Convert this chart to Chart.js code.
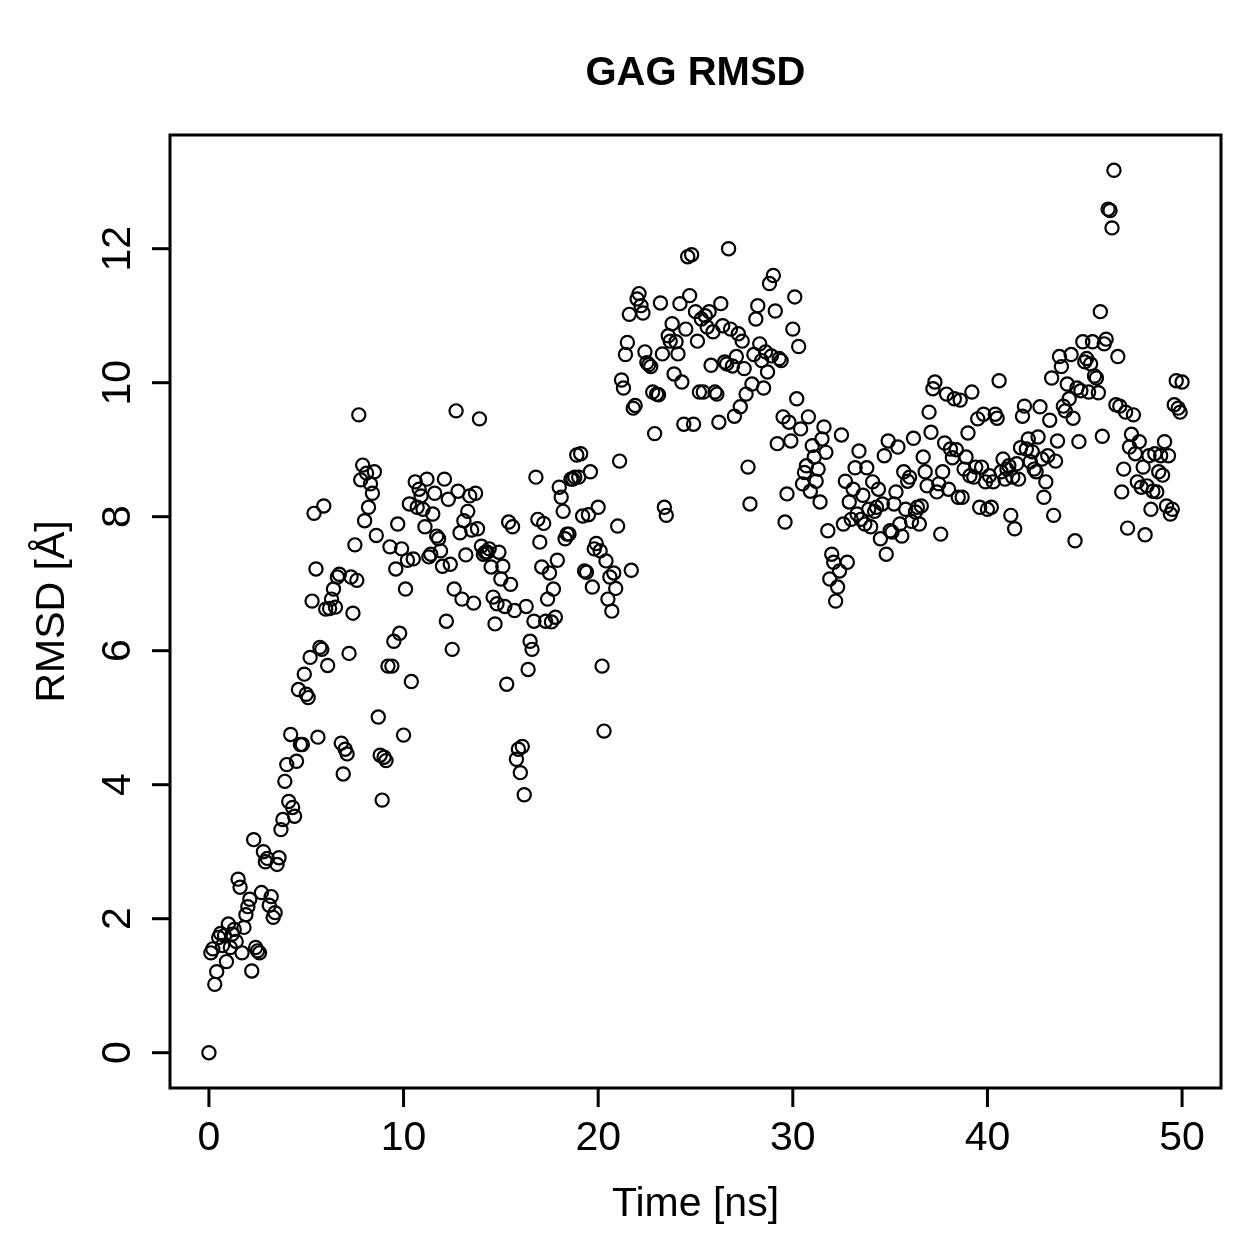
<!DOCTYPE html>
<html>
<head>
<meta charset="utf-8">
<title>GAG RMSD</title>
<script src="https://cdn.jsdelivr.net/npm/chart.js@4.4.0/dist/chart.umd.min.js"></script>
<style>
  html, body { margin: 0; padding: 0; background: #fff; }
  canvas { display: block; }
</style>
</head>
<body>
<canvas id="rmsdChart" width="1259" height="1259"></canvas>
<script>
// sampling step of the trajectory (one frame every 0.1 ns)
var timeStepNs = 0.1;

// RMSD values, in blocks of 10 ns
var rmsd0to10 = [
  0.00, 1.49, 1.55, 1.02, 1.21, 1.72, 1.78, 1.60, 1.75, 1.36,
  1.92, 1.57, 1.77, 1.84, 1.66, 2.59, 2.47, 1.49, 1.87, 2.06,
  2.18, 2.29, 1.22, 3.18, 1.57, 1.52, 1.49, 2.39, 3.00, 2.85,
  2.90, 2.20, 2.33, 2.02, 2.09, 2.81, 2.91, 3.33, 3.48, 4.05,
  4.30, 3.75, 4.75, 3.66, 3.53, 4.35, 5.42, 4.60, 4.60, 5.65,
  5.35, 5.30, 5.90, 6.74, 8.05, 7.22, 4.71, 6.05, 6.02, 8.16,
  6.62, 5.78, 6.63, 6.77, 6.92, 6.65, 7.10, 7.14, 4.62, 4.16,
  4.53, 4.46, 5.96, 7.10, 6.56, 7.58, 7.05, 9.52, 8.55, 8.77,
  7.94, 8.65, 8.14, 8.49, 8.35, 8.67, 7.72, 5.01, 4.44, 3.77,
  4.41, 4.36, 5.77, 7.55, 5.77, 6.14, 7.22, 7.89, 6.26, 7.52
];
var rmsd10to20 = [
  4.74, 6.92, 7.35, 8.19, 5.54, 7.37, 8.52, 8.14, 8.41, 8.31,
  8.11, 7.85, 8.56, 7.40, 7.44, 8.04, 8.35, 7.71, 7.67, 7.49,
  7.26, 8.56, 6.44, 8.26, 7.29, 6.02, 6.92, 9.58, 8.38, 7.76,
  6.77, 7.94, 7.43, 8.08, 8.31, 7.80, 6.71, 8.35, 7.82, 9.46,
  7.56, 7.44, 7.47, 7.47, 7.52, 7.25, 6.80, 6.40, 6.70, 7.47,
  7.07, 7.26, 6.66, 5.50, 7.92, 6.99, 7.85, 6.60, 4.38, 4.53,
  4.18, 4.57, 3.85, 6.66, 5.72, 6.14, 6.02, 6.44, 8.59, 7.96,
  7.62, 7.25, 7.90, 6.44, 6.77, 7.16, 6.43, 6.92, 6.50, 7.35,
  8.44, 8.29, 8.08, 7.67, 7.74, 7.74, 8.56, 8.56, 8.59, 8.92,
  8.59, 8.94, 8.01, 7.19, 7.17, 8.03, 8.67, 6.95, 7.52, 7.60
];
var rmsd20to30 = [
  8.14, 7.49, 5.77, 4.80, 7.34, 6.77, 7.10, 6.59, 7.16, 6.93,
  7.86, 8.83, 10.04, 9.92, 10.42, 10.60, 11.02, 7.20, 9.62, 9.66,
  11.25, 11.33, 11.15, 11.04, 10.46, 10.30, 10.27, 10.24, 9.86, 9.24,
  9.83, 9.82, 11.19, 10.43, 8.14, 8.02, 10.70, 10.62, 10.88, 10.13,
  10.61, 10.43, 11.18, 10.01, 9.38, 10.80, 11.88, 11.30, 11.91, 9.38,
  11.06, 10.62, 9.86, 10.95, 9.86, 11.00, 10.83, 11.06, 10.26, 10.76,
  9.86, 9.83, 9.41, 11.18, 10.85, 10.31, 10.28, 12.00, 10.80, 10.25,
  9.50, 10.39, 10.73, 9.64, 10.62, 10.21, 9.83, 8.74, 8.19, 9.98,
  10.42, 10.95, 11.15, 10.58, 10.33, 9.92, 10.46, 10.16, 11.48, 10.40,
  11.60, 11.07, 9.09, 10.36, 10.33, 9.49, 7.92, 8.34, 9.41, 9.13
];
var rmsd30to40 = [
  10.80, 11.28, 9.76, 10.54, 9.31, 8.49, 8.66, 8.76, 9.49, 8.38,
  9.06, 8.89, 8.53, 8.71, 8.22, 9.16, 9.34, 8.96, 7.79, 7.07,
  7.44, 7.32, 6.74, 6.95, 7.19, 9.22, 7.89, 8.53, 7.32, 8.22,
  7.96, 8.41, 8.73, 8.04, 8.98, 7.96, 8.32, 7.89, 8.73, 8.11,
  7.85, 8.52, 8.08, 8.14, 8.41, 7.67, 8.19, 8.91, 7.44, 9.13,
  7.79, 7.77, 8.19, 8.37, 9.04, 7.89, 7.71, 8.67, 8.11, 8.53,
  8.59, 7.93, 9.17, 8.07, 8.14, 7.89, 8.16, 8.89, 8.67, 8.46,
  9.56, 9.26, 9.91, 10.01, 8.37, 8.49, 7.74, 8.67, 9.10, 9.83,
  8.41, 9.01, 8.88, 9.76, 9.00, 8.29, 9.74, 8.29, 8.71, 8.89,
  9.25, 8.61, 9.86, 8.59, 8.74, 9.46, 8.14, 8.74, 9.53, 8.52
];
var rmsd40to50 = [
  8.11, 8.61, 8.14, 8.52, 9.53, 9.47, 10.03, 8.67, 8.86, 8.56,
  8.71, 8.76, 8.02, 8.59, 7.82, 8.79, 8.56, 9.03, 9.50, 9.65,
  9.01, 9.16, 8.82, 8.97, 8.71, 8.67, 9.19, 9.64, 8.86, 8.29,
  8.52, 8.91, 9.44, 10.07, 8.02, 8.83, 9.13, 10.39, 10.24, 9.65,
  9.58, 9.98, 9.76, 10.42, 9.47, 7.64, 9.92, 9.12, 9.88, 10.61,
  10.31, 10.36, 9.86, 10.28, 10.61, 10.10, 10.07, 9.85, 11.06, 9.20,
  10.58, 10.65, 12.59, 12.57, 12.31, 13.17, 9.67, 10.39, 9.65, 8.37,
  8.71, 9.56, 7.83, 9.04, 9.23, 9.52, 8.94, 8.52, 9.12, 8.44,
  8.74, 7.73, 8.46, 8.91, 8.11, 8.38, 8.94, 8.37, 8.67, 8.91,
  8.62, 9.12, 8.16, 8.91, 8.04, 8.11, 9.67, 10.03, 9.62, 9.56,
  10.01
];

var xTicks = [0, 10, 20, 30, 40, 50];
var yTicks = [0, 2, 4, 6, 8, 10, 12];

var chartTitle = 'GAG RMSD';
var xTitle = 'Time [ns]';
var yTitle = 'RMSD [Å]';

var rmsd = rmsd0to10.concat(rmsd10to20, rmsd20to30, rmsd30to40, rmsd40to50);
var points = rmsd.map(function (v, i) {
    return { x: +(i * timeStepNs).toFixed(1), y: v };
});

// R style axis limits: data range extended by 4% on each side
function rRange(vals) {
    var lo = Math.min.apply(null, vals), hi = Math.max.apply(null, vals);
    var d = (hi - lo) * 0.04;
    return [lo - d, hi + d];
}
var xr = rRange(points.map(function (p) { return p.x; }));
var yr = rRange(rmsd);

var FONT = '"Liberation Sans", Arial, Helvetica, sans-serif';

var baseAxes = {
    id: 'baseAxes',
    beforeDraw: function (chart) {
        var ctx = chart.ctx;
        ctx.save();
        ctx.fillStyle = '#ffffff';
        ctx.fillRect(0, 0, chart.width, chart.height);
        ctx.restore();
    },
    afterDraw: function (chart) {
        var ctx = chart.ctx, a = chart.chartArea;
        var sx = chart.scales.x, sy = chart.scales.y;
        ctx.save();
        ctx.strokeStyle = '#000';
        ctx.fillStyle = '#000';
        ctx.lineWidth = 3;
        ctx.strokeRect(a.left, a.top, a.right - a.left, a.bottom - a.top);

        ctx.font = '41px ' + FONT;
        ctx.textAlign = 'center';
        ctx.textBaseline = 'alphabetic';
        xTicks.forEach(function (v) {
            var px = sx.getPixelForValue(v);
            ctx.beginPath();
            ctx.moveTo(px, a.bottom);
            ctx.lineTo(px, a.bottom + 19);
            ctx.stroke();
            ctx.fillText(String(v), px, 1150);
        });
        yTicks.forEach(function (v) {
            var py = sy.getPixelForValue(v);
            ctx.beginPath();
            ctx.moveTo(a.left, py);
            ctx.lineTo(a.left - 18, py);
            ctx.stroke();
            ctx.save();
            ctx.translate(130, py);
            ctx.rotate(-Math.PI / 2);
            ctx.fillText(String(v), 0, 0);
            ctx.restore();
        });

        ctx.fillText(xTitle, (a.left + a.right) / 2, 1216);
        ctx.save();
        ctx.translate(64, (a.top + a.bottom) / 2);
        ctx.rotate(-Math.PI / 2);
        ctx.fillText(yTitle, 0, 0);
        ctx.restore();

        ctx.font = 'bold 40px ' + FONT;
        ctx.fillText(chartTitle, (a.left + a.right) / 2, 85);
        ctx.restore();
    }
};

new Chart(document.getElementById('rmsdChart'), {
    type: 'scatter',
    data: {
        datasets: [{
            label: 'RMSD',
            data: points,
            showLine: false,
            pointStyle: 'circle',
            pointRadius: 6.6,
            pointBorderWidth: 2.2,
            borderWidth: 2.2,
            pointBorderColor: '#000',
            borderColor: '#000',
            pointBackgroundColor: 'rgba(0,0,0,0)',
            backgroundColor: 'rgba(0,0,0,0)',
            clip: false
        }]
    },
    options: {
        responsive: false,
        animation: false,
        events: [],
        devicePixelRatio: 1,
        layout: { padding: { left: 170, right: 38, top: 135, bottom: 171 } },
        elements: {
            point: { radius: 6.6, borderWidth: 2.2, borderColor: '#000', backgroundColor: 'rgba(0,0,0,0)' }
        },
        plugins: {
            legend: { display: false },
            tooltip: { enabled: false },
            title: { display: false }
        },
        scales: {
            x: { type: 'linear', min: xr[0], max: xr[1], display: false },
            y: { type: 'linear', min: yr[0], max: yr[1], display: false }
        }
    },
    plugins: [baseAxes]
});
</script>
</body>
</html>
